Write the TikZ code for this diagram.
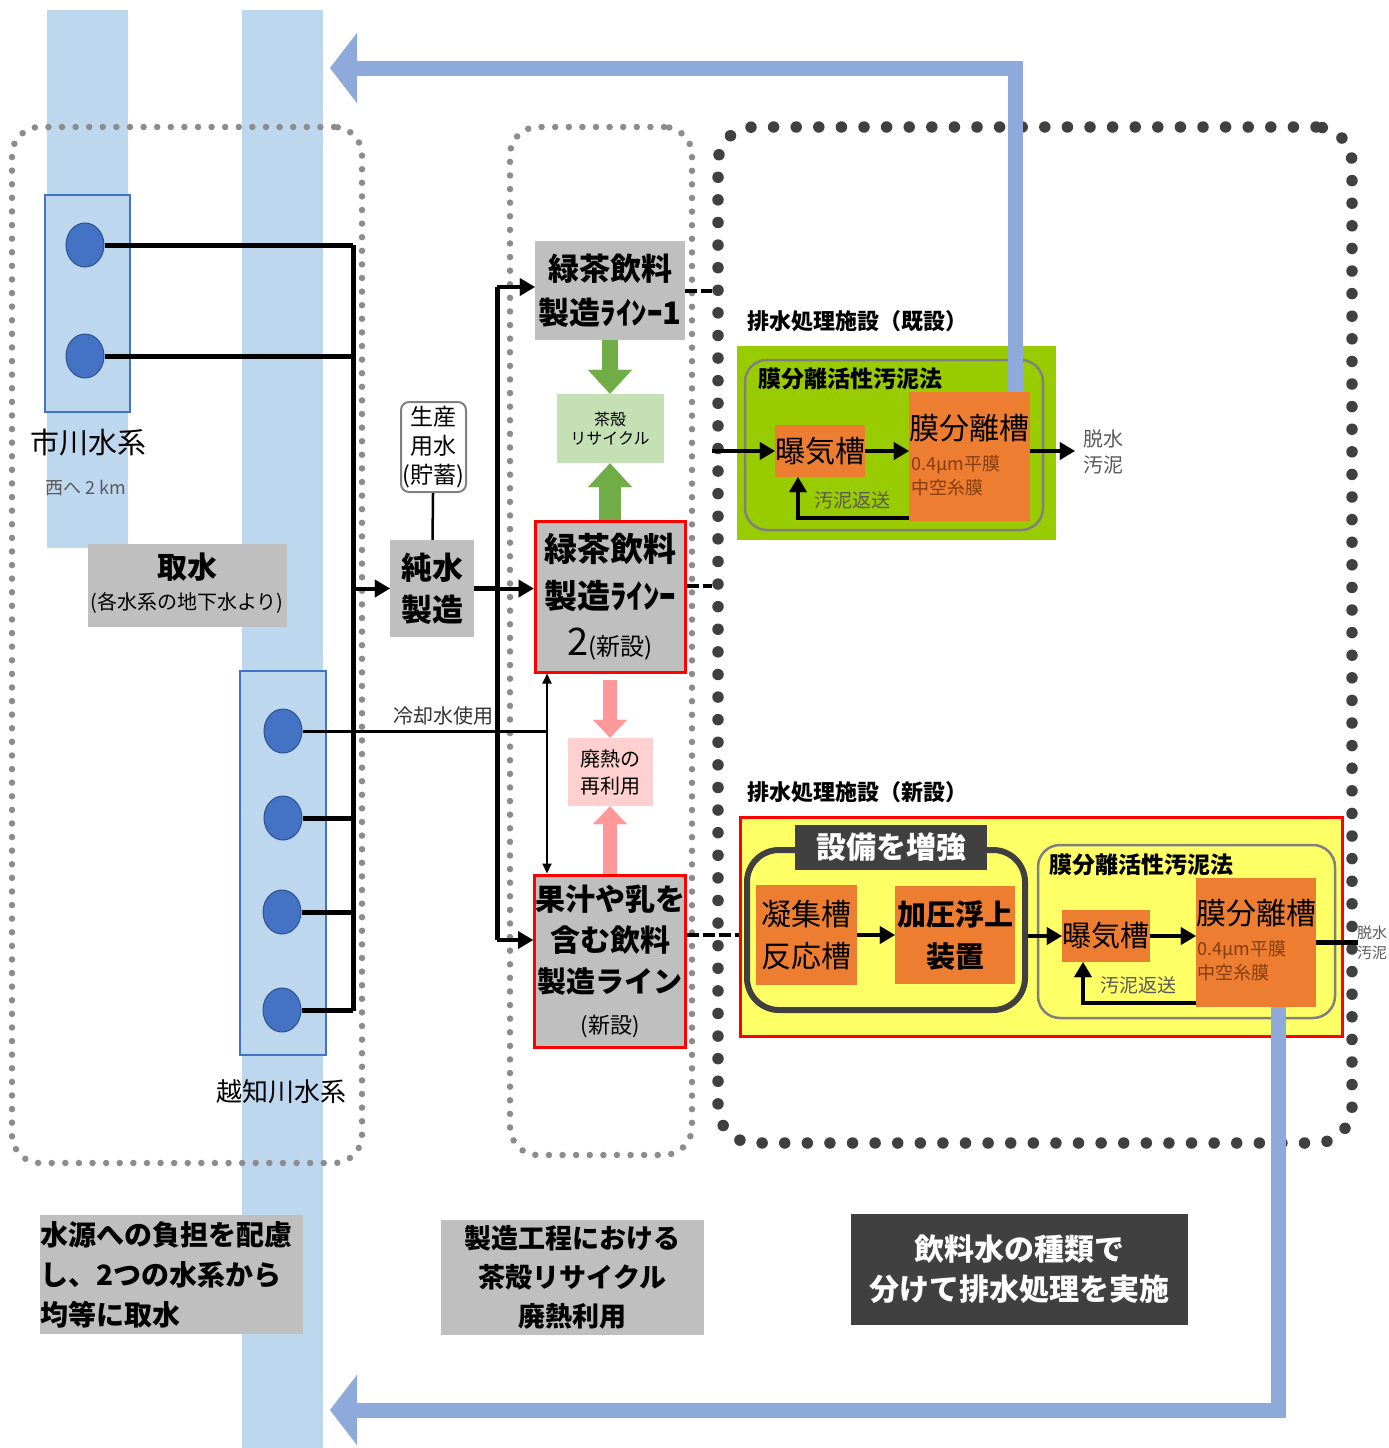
\documentclass[tikz,border=0pt]{standalone}
\usepackage{fontspec}
\setmainfont{Noto Sans CJK JP}
\usetikzlibrary{arrows.meta,shapes.geometric}

\definecolor{bandblue}{HTML}{BDD7EE}
\definecolor{wellblue}{HTML}{4472C4}
\definecolor{wellline}{HTML}{2F528F}
\definecolor{boxgray}{HTML}{BFBFBF}
\definecolor{dotgray}{HTML}{8C8C8C}
\definecolor{dotdark}{HTML}{404040}
\definecolor{teagreen}{HTML}{70AD47}
\definecolor{teabox}{HTML}{C5E0B4}
\definecolor{heatpink}{HTML}{FF9999}
\definecolor{heatbox}{HTML}{FFD0D0}
\definecolor{tankorange}{HTML}{ED7D31}
\definecolor{oldgreen}{HTML}{99CC00}
\definecolor{newyellow}{HTML}{FFFF66}
\definecolor{pipeblue}{HTML}{8EAADB}
\definecolor{membrown}{HTML}{843C0C}
\definecolor{notegray}{HTML}{595959}

\newcommand\fsz[2]{\fontsize{#1}{#2}\selectfont}

\begin{document}
\begin{tikzpicture}[x=1pt, y=-1pt,
  every node/.style={inner sep=0pt, align=center},
  well/.style={ellipse, draw=wellline, fill=wellblue, line width=1pt, minimum width=38pt, minimum height=44pt},
  site/.style={draw=wellblue, fill=bandblue, line width=1.5pt},
  box/.style={fill=boxgray},
  newline/.style={fill=boxgray, draw=red, line width=3pt},
  tank/.style={fill=tankorange},
  pipe/.style={line width=5pt},
  flow/.style={line width=4pt, -{Triangle[length=15pt,width=18pt,line width=0.1pt]}},
  drain/.style={line width=4pt, dash pattern=on 12pt off 4pt},
  smalldots/.style={draw=dotgray, line width=6.5pt, line cap=round, dash pattern=on 0pt off 13.6pt, rounded corners=28pt},
  bigdots/.style={draw=dotdark, line width=11.5pt, line cap=round, dash pattern=on 0pt off 22.6pt, rounded corners=36pt},
  fatgreen/.style={draw=teagreen, line width=#1, -{Triangle[length=24pt,width=44pt,line width=0.1pt]}},
  fatpink/.style={draw=heatpink, line width=#1, -{Triangle[length=18pt,width=34pt,line width=0.1pt]}},
  back/.style={draw=pipeblue, line width=15pt, -{Triangle[length=27pt,width=70pt,line width=0.1pt]}},
  ]
\useasboundingbox (0,0) rectangle (1389,1448);

\fill[bandblue] (47,10) rectangle (128,548);
\fill[bandblue] (242,10) rectangle (323,1448);

\node[smalldots, minimum width=350pt, minimum height=1036pt] (sourceframe) at (187,645) {};
\node[smalldots, minimum width=182pt, minimum height=1028pt] (plantframe) at (601,641) {};
\node[bigdots, minimum width=634pt, minimum height=1016pt] (wwframe) at (1035,635) {};

\node[site, minimum width=85pt, minimum height=217pt] (ichikawa) at (87.5,303.5) {};
\node[well] (i1) at (85,245) {};
\node[well] (i2) at (85,356) {};
\node[site, minimum width=86pt, minimum height=384pt] (ochi) at (283,863) {};
\node[well] (o1) at (283,731) {};
\node[well] (o2) at (283,818) {};
\node[well] (o3) at (282,912) {};
\node[well] (o4) at (282,1010) {};

\node[font=\fsz{29}{34}] (ichikawaname) at (88,443) {市川水系};
\node[font=\fsz{18}{22}, text=notegray] (ichikawadist) at (86,488) {西へ 2 km};
\node[font=\fsz{26}{30}] (ochiname) at (281,1092) {越知川水系};

\node[box, minimum width=199pt, minimum height=83pt] (intake) at (187.5,585.5) {};
\node[font=\bfseries\fsz{30}{34}] (intaketitle) at (187,567) {取水};
\node[font=\fsz{20}{24}] (intakenote) at (187,603) {(各水系の地下水より)};

\coordinate (trunkA) at (353,245);
\coordinate (trunkB) at (353,1011);
\coordinate (cool) at (547,731);
\draw[pipe] (trunkA) -- (trunkB);
\draw[pipe] (i1.east) -- (i1.east -| trunkA);
\draw[pipe] (i2.east) -- (i2.east -| trunkA);
\draw[pipe] (o2.east) -- (o2.east -| trunkA);
\draw[pipe] (o3.east) -- (o3.east -| trunkA);
\draw[pipe] (o4.east) -- (o4.east -| trunkA);
\draw[line width=3pt] (o1.east) -- (cool);
\node[font=\fsz{20}{24}, text=black!80] (coolname) at (443,716) {冷却水使用};

\node[draw=gray, line width=2pt, rounded corners=8pt, minimum width=65pt, minimum height=90pt, font=\fsz{23}{29}] (seisan) at (433.5,447) {生産\\用水\\(貯蓄)};
\node[box, minimum width=84pt, minimum height=97pt, font=\bfseries\fsz{31}{42}] (junsui) at (432,588.5) {純水\\製造};
\draw[line width=2.5pt] (seisan) -- (junsui);
\draw[flow] (junsui.west -| trunkA) -- (junsui.west);

\node[box, minimum width=150pt, minimum height=99pt, font=\bfseries\fsz{31}{44}] (line1) at (610,290.5) {緑茶飲料\\製造ﾗｲﾝｰ1};
\node[newline, minimum width=150pt, minimum height=151pt, font=\bfseries\fsz{33}{47}] (line2) at (610,596.5)
  {緑茶飲料\\製造ﾗｲﾝｰ\\{\mdseries\fsz{38}{47}2}{\mdseries\fsz{24}{47}(新設)}};
\node[newline, minimum width=151pt, minimum height=172pt, font=\bfseries\fsz{30}{41}] (juice) at (610,961)
  {果汁や乳を\\含む飲料\\{\fsz{29}{41}製造ライン}\\{\mdseries\fsz{22}{41}(新設)}};

\coordinate (feedA) at (497,287);
\coordinate (feedB) at (497,940);
\draw[pipe] (junsui.east) -- (junsui.east -| feedA);
\draw[pipe] (feedA) -- (feedB);
\draw[flow] (feedA) -- (feedA -| line1.west);
\draw[flow] (junsui.east -| feedA) -- (junsui.east -| line2.west);
\draw[flow] (feedB) -- (feedB -| juice.west);

\node[fill=teabox, minimum width=107pt, minimum height=69pt, font=\fsz{16}{19}] (chagara) at (610,428.5) {茶殻\\リサイクル};
\draw[fatgreen=16pt] (line1.south) -- (chagara.north);
\draw[fatgreen=22pt] (line2.north) -- (chagara.south);

\node[fill=heatbox, minimum width=85pt, minimum height=68pt, font=\fsz{20}{27}] (heat) at (610,772) {廃熱の\\再利用};
\draw[fatpink=14pt] ([yshift=-6pt]line2.south) -- (heat.north);
\draw[fatpink=14pt] (juice.north) -- (heat.south);

\draw[line width=2pt, {Triangle[length=10pt,width=9pt]}-{Triangle[length=10pt,width=9pt]}] (line2.south -| cool) -- (juice.north -| cool);

\draw[drain] (line1.east) -- (line1.east -| wwframe.west);
\draw[drain] ([yshift=11pt]line2.east) -- ([yshift=11pt]line2.east -| wwframe.west);

\node[font=\bfseries\fsz{22}{26}] (oldtitle) at (857,321) {排水処理施設（既設）};
\node[fill=oldgreen, minimum width=319pt, minimum height=194pt] (oldyard) at (896.5,443) {};
\node[draw=gray, line width=2.5pt, rounded corners=22pt, minimum width=298pt, minimum height=170pt] (oldmbr) at (894,445) {};
\node[font=\bfseries\fsz{23}{27}] (oldmbrname) at (850,379) {膜分離活性汚泥法};
\node[tank, minimum width=90pt, minimum height=52pt, font=\fsz{30}{34}] (aer1) at (820,451) {曝気槽};
\node[tank, minimum width=121pt, minimum height=129pt] (mem1) at (969.5,456.5) {};
\node[font=\fsz{30}{34}] (mem1name) at (969.5,428) {膜分離槽};
\node[font=\fsz{18}{24}, text=membrown, align=left, anchor=north west] (mem1spec) at (911,455) {0.4µm平膜\\中空糸膜};
\node[font=\fsz{20}{26}, text=notegray] (olddry) at (1103,452) {脱水\\汚泥};
\node[font=\fsz{19}{23}, text=notegray] (oldreturn) at (852,500) {汚泥返送};
\draw[flow] (aer1.west -| wwframe.west) -- (aer1.west);
\draw[flow] (aer1.east) -- (aer1.east -| mem1.west);
\draw[flow] ([yshift=-61pt]mem1.west) -| ([xshift=-22pt]aer1.south);
\draw[flow] (aer1.east -| mem1.east) -- ([xshift=-8pt]aer1.east -| olddry.west);

\node[font=\bfseries\fsz{22}{26}] (newtitle) at (857,792) {排水処理施設（新設）};
\node[fill=newyellow, draw=red, line width=3pt, minimum width=602pt, minimum height=219pt] (newyard) at (1041,926.5) {};
\node[draw=dotdark, line width=6pt, rounded corners=32pt, minimum width=278pt, minimum height=160pt] (boost) at (886,930) {};
\node[fill=dotdark, text=white, font=\bfseries\fsz{30}{34}, minimum width=192pt, minimum height=45pt] (boostname) at (891,847.5) {設備を増強};
\node[tank, minimum width=101pt, minimum height=100pt, font=\fsz{30}{42}] (coag) at (806.5,935) {凝集槽\\反応槽};
\node[tank, minimum width=120pt, minimum height=98pt, font=\bfseries\fsz{29}{42}] (daf) at (955,935) {加圧浮上\\装置};
\draw[flow] (coag.east) -- (daf.west);
\draw[drain] ([yshift=26pt]juice.east) -- ([yshift=26pt]juice.east -| newyard.west);

\node[draw=gray, line width=2.5pt, rounded corners=22pt, minimum width=297pt, minimum height=173pt] (newmbr) at (1186.5,931.5) {};
\node[font=\bfseries\fsz{23}{27}] (newmbrname) at (1141,865) {膜分離活性汚泥法};
\node[tank, minimum width=88pt, minimum height=52pt, font=\fsz{29}{34}] (aer2) at (1106,936) {曝気槽};
\node[tank, minimum width=120pt, minimum height=129pt] (mem2) at (1256,942.5) {};
\node[font=\fsz{30}{34}] (mem2name) at (1256,913) {膜分離槽};
\node[font=\fsz{18}{24}, text=membrown, align=left, anchor=north west] (mem2spec) at (1197,940) {0.4µm平膜\\中空糸膜};
\node[font=\fsz{19}{23}, text=notegray] (newreturn) at (1138,985) {汚泥返送};
\node[font=\fsz{15}{20}, text=notegray] (newdry) at (1372,943) {脱水\\汚泥};
\draw[flow] (aer2.west -| boost.east) -- (aer2.west);
\draw[flow] (aer2.east) -- (aer2.east -| mem2.west);
\draw[flow] ([yshift=-60pt]mem2.west) -| ([xshift=-23pt]aer2.south);
\draw[pipe] (mem2.east) -- (mem2.east -| wwframe.east);

\coordinate (memtop) at (1015,392);
\coordinate (membottom) at (1278,1007);
\coordinate (riverA) at (330,68);
\coordinate (riverB) at (330,1410);
\draw[back] (memtop) |- (riverA);
\draw[back] (membottom) |- (riverB);

\node[box, minimum width=263pt, minimum height=119pt, text width=263pt, align=left, font=\bfseries\fsz{28}{40}] (noteA) at (171.5,1274.5) {水源への負担を配慮\\し、2つの水系から\\均等に取水};
\node[box, minimum width=263pt, minimum height=115pt, font=\bfseries\fsz{27}{39}] (noteB) at (572.5,1277.5) {製造工程における\\茶殻リサイクル\\廃熱利用};
\node[fill=dotdark, text=white, minimum width=337pt, minimum height=111pt, font=\bfseries\fsz{30}{40}] (noteC) at (1019.5,1269.5) {飲料水の種類で\\分けて排水処理を実施};
\end{tikzpicture}
\end{document}
